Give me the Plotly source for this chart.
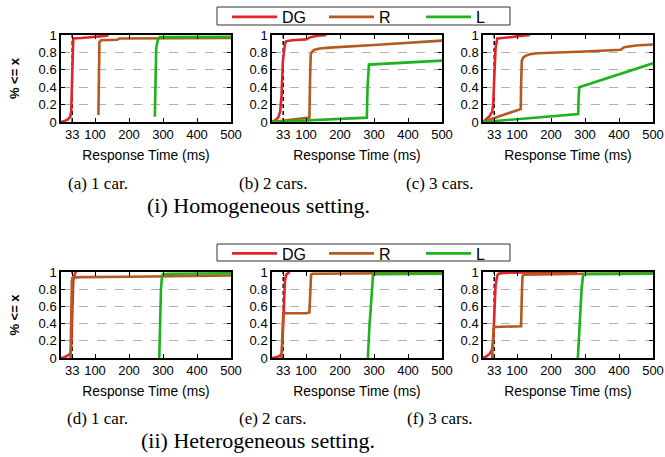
import plotly.graph_objects as go

# ---------------- data ----------------
X_TICKS = [33, 100, 200, 300, 400, 500]
Y_TICKS = [0, 0.2, 0.4, 0.6, 0.8, 1]
REF_X = 33

SERIES_NAMES = ["DG", "R", "L"]
COLORS = ["#e3232b", "#b55a1f", "#1db31d"]

# (a) homogeneous, 1 car
dg_a_x = [0, 10, 20, 27, 30, 32, 34, 36, 60, 100, 130, 140]
dg_a_y = [0, 0.01, 0.03, 0.06, 0.12, 0.5, 0.93, 0.96, 0.965, 0.975, 0.99, 1.0]
r_a_x = [110, 111, 113, 118, 165, 172, 500]
r_a_y = [0.08, 0.5, 0.92, 0.94, 0.945, 0.96, 0.965]
l_a_x = [276, 277, 280, 285, 290, 500]
l_a_y = [0.06, 0.5, 0.85, 0.95, 0.975, 0.98]

# (b) homogeneous, 2 cars
dg_b_x = [0, 10, 18, 24, 28, 32, 38, 42, 60, 100, 110, 130, 160]
dg_b_y = [0, 0.02, 0.05, 0.12, 0.3, 0.7, 0.9, 0.93, 0.94, 0.95, 0.97, 0.99, 1.0]
r_b_x = [0, 50, 110, 112, 114, 118, 125, 140, 170, 300, 500]
r_b_y = [0, 0.02, 0.05, 0.5, 0.78, 0.81, 0.83, 0.845, 0.855, 0.885, 0.935]
l_b_x = [0, 100, 200, 279, 281, 285, 500]
l_b_y = [0, 0.02, 0.035, 0.05, 0.4, 0.66, 0.705]

# (c) homogeneous, 3 cars
dg_c_x = [0, 10, 20, 27, 30, 33, 37, 42, 50, 80, 110, 138]
dg_c_y = [0, 0.03, 0.07, 0.12, 0.2, 0.5, 0.85, 0.96, 0.965, 0.975, 0.99, 1.0]
r_c_x = [0, 111, 112, 114, 118, 125, 140, 160, 300, 390, 405, 415, 450, 500]
r_c_y = [0, 0.15, 0.4, 0.7, 0.74, 0.76, 0.78, 0.79, 0.81, 0.82, 0.83, 0.86, 0.88, 0.89]
l_c_x = [0, 280, 281, 283, 500]
l_c_y = [0, 0.09, 0.25, 0.4, 0.675]

# (d) heterogeneous, 1 car
dg_d_x = [0, 10, 20, 27, 30, 33, 36, 40, 44]
dg_d_y = [0, 0.01, 0.03, 0.05, 0.1, 0.5, 0.9, 0.97, 1.0]
r_d_x = [28, 30, 32, 35, 60, 200, 500]
r_d_y = [0, 0.5, 0.9, 0.935, 0.94, 0.945, 0.96]
l_d_x = [289, 291, 294, 297, 300, 320, 500]
l_d_y = [0, 0.4, 0.8, 0.95, 0.975, 0.98, 0.985]

# (e) heterogeneous, 2 cars
dg_e_x = [0, 15, 25, 29, 32, 35, 38, 42, 48, 52]
dg_e_y = [0, 0.01, 0.03, 0.06, 0.3, 0.7, 0.9, 0.97, 0.99, 1.0]
r_e_x = [28, 30, 33, 40, 100, 110, 112, 115, 120, 500]
r_e_y = [0, 0.3, 0.51, 0.52, 0.52, 0.53, 0.8, 0.97, 0.98, 0.99]
l_e_x = [282, 284, 287, 290, 294, 297, 300, 500]
l_e_y = [0, 0.2, 0.4, 0.55, 0.85, 0.96, 0.975, 0.98]

# (f) heterogeneous, 3 cars
dg_f_x = [0, 10, 20, 27, 30, 33, 37, 42, 46, 60, 150, 277]
dg_f_y = [0, 0.02, 0.05, 0.1, 0.2, 0.5, 0.85, 0.96, 0.98, 0.99, 0.995, 1.0]
r_f_x = [27, 29, 31, 35, 60, 100, 112, 114, 116, 120, 200, 300, 500]
r_f_y = [0, 0.15, 0.34, 0.36, 0.365, 0.37, 0.37, 0.7, 0.95, 0.97, 0.975, 0.98, 0.985]
l_f_x = [279, 282, 286, 290, 294, 298, 500]
l_f_y = [0, 0.25, 0.55, 0.8, 0.95, 0.975, 0.98]

SUB_CAPTIONS = ["(a) 1 car.", "(b) 2 cars.", "(c) 3 cars.",
                "(d) 1 car.", "(e) 2 cars.", "(f) 3 cars."]
ROW_CAPTIONS = ["(i) Homogeneous setting.", "(ii) Heterogeneous setting."]
X_TITLE = "Response Time (ms)"
Y_TITLE = "% <= x"

panels = [
    [(dg_a_x, dg_a_y), (r_a_x, r_a_y), (l_a_x, l_a_y)],
    [(dg_b_x, dg_b_y), (r_b_x, r_b_y), (l_b_x, l_b_y)],
    [(dg_c_x, dg_c_y), (r_c_x, r_c_y), (l_c_x, l_c_y)],
    [(dg_d_x, dg_d_y), (r_d_x, r_d_y), (l_d_x, l_d_y)],
    [(dg_e_x, dg_e_y), (r_e_x, r_e_y), (l_e_x, l_e_y)],
    [(dg_f_x, dg_f_y), (r_f_x, r_f_y), (l_f_x, l_f_y)],
]

# ---------------- layout geometry ----------------
W, H = 665, 457
col_px = [(61, 231), (272, 442), (483, 653)]
row_px = [(35, 122), (272, 358)]
legend_box_px = [(217, 510, 7, 25), (217, 510, 244, 261)]

SANS = "Liberation Sans, Arial, sans-serif"
SERIF = "Liberation Serif, Times New Roman, serif"

fig = go.Figure()
layout = dict(
    width=W, height=H, autosize=False,
    margin=dict(l=0, r=0, t=0, b=0, autoexpand=False),
    paper_bgcolor="white", plot_bgcolor="white",
    font=dict(family=SANS, size=13, color="black"),
    annotations=[], shapes=[],
)

for i, panel in enumerate(panels):
    r, c = divmod(i, 3)
    idx = i + 1
    xa = "x" if idx == 1 else f"x{idx}"
    ya = "y" if idx == 1 else f"y{idx}"
    # reference dashed line at x = REF_X
    fig.add_trace(go.Scatter(
        x=[REF_X, REF_X], y=[0, 1], mode="lines",
        line=dict(color="black", width=1.5, dash="4px,3px"),
        xaxis=xa, yaxis=ya, showlegend=False, hoverinfo="skip",
    ))
    for s, (xs, ys) in enumerate(panel):
        fig.add_trace(go.Scatter(
            x=xs, y=ys, mode="lines", name=SERIES_NAMES[s],
            line=dict(color=COLORS[s], width=2.6),
            xaxis=xa, yaxis=ya,
            legend="legend" if r == 0 else "legend2",
            showlegend=(c == 0),
        ))
    x0, x1 = col_px[c]
    y0, y1 = row_px[r]
    axkey = "xaxis" if idx == 1 else f"xaxis{idx}"
    aykey = "yaxis" if idx == 1 else f"yaxis{idx}"
    layout[axkey] = dict(
        domain=[x0 / W, x1 / W], anchor=ya, range=[0, 500], automargin=False,
        tickvals=X_TICKS, ticktext=[str(v) for v in X_TICKS],
        ticks="inside", ticklen=4, tickcolor="black", tickwidth=1,
        showline=True, linecolor="black", linewidth=1.5, mirror="allticks",
        showgrid=False, zeroline=False,
        tickfont=dict(size=13, family=SANS),
        title=dict(text=X_TITLE, font=dict(size=13.8, family=SANS), standoff=9),
    )
    layout[aykey] = dict(
        domain=[1 - y1 / H, 1 - y0 / H], anchor=xa, range=[0, 1], automargin=False,
        tickvals=Y_TICKS, ticks="inside", ticklen=4, tickcolor="black",
        showline=True, linecolor="black", linewidth=1.5, mirror="allticks",
        showgrid=True, gridcolor="#b0b0b0", griddash="dash", gridwidth=1,
        zeroline=False,
        tickfont=dict(size=13, family=SANS),
        title=dict(text=f"<b>{Y_TITLE}</b>" if c == 0 else "",
                   font=dict(size=13, family=SANS), standoff=16),
    )

# legends: native entries on a transparent legend, framed by a thin box
legend_common = dict(
    orientation="h", xanchor="left", yanchor="middle",
    borderwidth=0, bgcolor="rgba(0,0,0,0)",
    font=dict(family=SANS, size=16, color="black"),
    entrywidth=37, entrywidthmode="pixels", itemwidth=45,
)
for k, (bx0, bx1, by0, by1) in enumerate(legend_box_px):
    key = "legend" if k == 0 else "legend2"
    layout[key] = dict(legend_common, x=(bx0 + 10) / W,
                       y=1 - ((by0 + by1) / 2 + 1) / H)
    layout["shapes"].append(dict(
        type="rect", xref="paper", yref="paper",
        x0=bx0 / W, x1=bx1 / W, y0=1 - by1 / H, y1=1 - by0 / H,
        line=dict(color="#333333", width=1), fillcolor="rgba(0,0,0,0)",
    ))

# sub-captions and row captions
cap_x = [98, 273, 440]
for i, txt in enumerate(SUB_CAPTIONS):
    r, c = divmod(i, 3)
    yc = [183.5, 418.5][r]
    layout["annotations"].append(dict(
        text=txt, x=cap_x[c] / W, y=1 - yc / H, xref="paper", yref="paper",
        showarrow=False, xanchor="center", yanchor="middle",
        font=dict(family=SERIF, size=17, color="black")))
for r, txt in enumerate(ROW_CAPTIONS):
    yc = [205, 440][r]
    layout["annotations"].append(dict(
        text=txt, x=258 / W, y=1 - yc / H, xref="paper", yref="paper",
        showarrow=False, xanchor="center", yanchor="middle",
        font=dict(family=SERIF, size=22, color="black")))

fig.update_layout(**layout)
fig.write_html(
    "out.html",
    config={"displayModeBar": False},
    post_script="document.body.style.margin='0px';document.body.style.overflow='hidden';",
)
